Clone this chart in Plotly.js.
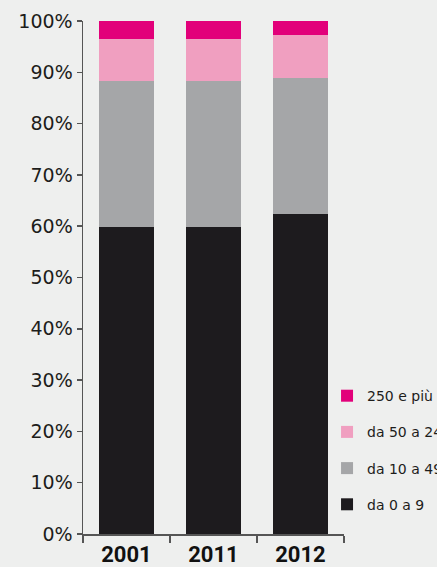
<!DOCTYPE html>
<html><head><meta charset="utf-8">
<script src="https://cdn.plot.ly/plotly-3.0.1.min.js"></script>
<style>html,body{margin:0;padding:0;background:#eeefee;}</style>
</head><body><div id="chart" style="width:437px;height:567px;"></div>
<script>
const years = ["2001", "2011", "2012"];
const da0a9 = [59.9, 59.9, 62.4];
const da10a49 = [28.4, 28.4, 26.5];
const da50a249 = [8.2, 8.2, 8.4];
const da250 = [3.5, 3.5, 2.7];
const seriesNames = ["da 0 a 9", "da 10 a 49", "da 50 a 249", "250 e più"];
const colors = ["#1d1b1e", "#a5a6a8", "#f09fc0", "#e2007a"];
const yTickVals = [0,10,20,30,40,50,60,70,80,90,100];
const yTickText = yTickVals.map(v => v + "%");

const vals = [da0a9, da10a49, da50a249, da250];
const traces = vals.map((v, i) => ({
  type: "bar", x: years, y: v, name: seriesNames[i], legendgroup: "g" + i,
  legendrank: 10 - i,
  marker: {color: colors[i], line: {width: 0}}, hoverinfo: "skip"
}));

const layout = {
  width: 437, height: 567,
  paper_bgcolor: "#eeefee", plot_bgcolor: "#eeefee",
  barmode: "stack", bargap: 0.37,
  margin: {l: 83, r: 93, t: 21, b: 33, autoexpand: false},
  font: {family: "'DejaVu Sans', sans-serif", color: "#1d1d1b"},
  showlegend: true,
  legend: {x: 0.935, xanchor: "left", y: 0.30, yanchor: "top",
    traceorder: "grouped", tracegroupgap: 15,
    font: {size: 14, color: "#1d1d1b"}, bgcolor: "rgba(0,0,0,0)", itemwidth: 30},
  xaxis: {type: "category", showline: true, linecolor: "#555", linewidth: 1.5,
    ticks: "outside", tickson: "boundaries", ticklen: 7, tickcolor: "#555", tickwidth: 1.5,
    tickfont: {size: 22, family: "Roboto, sans-serif", weight: "bold", color: "#111"},
    showgrid: false, zeroline: false, fixedrange: true},
  yaxis: {range: [0, 100], tickvals: yTickVals, ticktext: yTickText,
    showline: true, linecolor: "#555", linewidth: 1.5,
    ticks: "outside", ticklen: 5, tickcolor: "#555", tickwidth: 1.5,
    tickfont: {size: 19, color: "#1d1d1b"},
    showgrid: false, zeroline: false, fixedrange: true}
};
Plotly.newPlot("chart", traces, layout, {displayModeBar: false, staticPlot: true});
</script></body></html>
